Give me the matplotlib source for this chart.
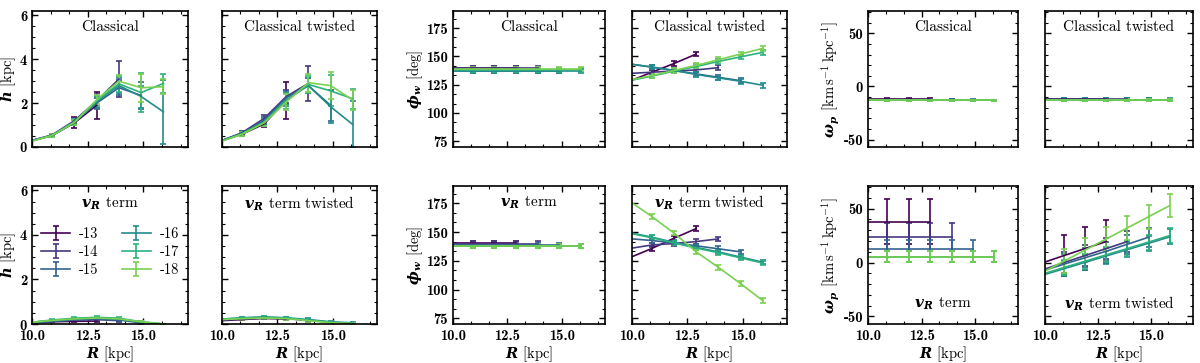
import numpy as np
import matplotlib
matplotlib.use('Agg')
import matplotlib.pyplot as plt
from matplotlib.ticker import MultipleLocator

plt.rcParams['font.family'] = 'cmr10'
plt.rcParams['axes.formatter.use_mathtext'] = False
plt.rcParams['axes.unicode_minus'] = False
plt.rcParams['mathtext.fontset'] = 'custom'
plt.rcParams['mathtext.rm'] = 'cmr10'
plt.rcParams['mathtext.it'] = 'cmmi10'
plt.rcParams['mathtext.bf'] = 'cmb10'
plt.rcParams['mathtext.bfit'] = 'DejaVu Serif:italic:bold'
plt.rcParams['axes.linewidth'] = 1.2
plt.rcParams['font.size'] = 10.5

# radial bins, first point (R=10) carries no error bar
R = [10.0, 10.9, 11.9, 12.9, 13.9, 14.9, 15.9]
labels = ['-13', '-14', '-15', '-16', '-17', '-18']
npts = [4, 5, 6, 7, 7, 7]
nan = np.nan

# h [kpc]
h_classical = [[0.30, 0.52, 1.10, 1.90],
               [0.30, 0.55, 1.20, 2.10, 3.10],
               [0.30, 0.52, 1.15, 2.00, 2.70, 2.35],
               [0.28, 0.52, 1.12, 2.05, 2.80, 2.30, 1.60],
               [0.28, 0.53, 1.15, 2.10, 2.88, 2.48, 2.90],
               [0.27, 0.52, 1.12, 2.15, 3.00, 2.70, 2.75]]
h_classical_err = [[nan, 0.06, 0.25, 0.62],
                   [nan, 0.06, 0.12, 0.30, 0.80],
                   [nan, 0.06, 0.12, 0.25, 0.35, 0.60],
                   [nan, 0.06, 0.12, 0.25, 0.35, 0.50, 1.45],
                   [nan, 0.06, 0.12, 0.25, 0.35, 0.90, 0.45],
                   [nan, 0.06, 0.12, 0.20, 0.30, 0.65, 0.35]]
h_twisted = [[0.30, 0.58, 1.05, 2.13],
             [0.30, 0.65, 1.30, 2.30, 2.90],
             [0.30, 0.62, 1.22, 2.25, 2.80, 1.90],
             [0.28, 0.60, 1.15, 2.15, 2.80, 1.84, 1.03],
             [0.28, 0.60, 1.12, 2.10, 2.85, 2.56, 2.20],
             [0.27, 0.58, 1.10, 2.05, 2.93, 2.80, 2.15]]
h_twisted_err = [[nan, 0.10, 0.15, 0.85],
                 [nan, 0.10, 0.15, 0.30, 0.80],
                 [nan, 0.10, 0.15, 0.30, 0.35, 0.70],
                 [nan, 0.10, 0.15, 0.30, 0.35, 0.75, 1.05],
                 [nan, 0.10, 0.15, 0.35, 0.40, 0.70, 0.45],
                 [nan, 0.10, 0.15, 0.35, 0.40, 0.60, 0.45]]
h_vr = [[0.05, 0.10, 0.12, 0.13],
        [0.05, 0.12, 0.18, 0.20, 0.15],
        [0.05, 0.12, 0.18, 0.22, 0.18, 0.05],
        [0.08, 0.15, 0.22, 0.27, 0.22, 0.08, 0.00],
        [0.08, 0.18, 0.26, 0.30, 0.26, 0.10, 0.00],
        [0.08, 0.16, 0.23, 0.27, 0.23, 0.10, 0.00]]
h_vr_err = [[nan, 0.03, 0.04, 0.04],
            [nan, 0.03, 0.04, 0.04, 0.04],
            [nan, 0.03, 0.04, 0.04, 0.04, 0.03],
            [nan, 0.04, 0.05, 0.05, 0.05, 0.03, 0.02],
            [nan, 0.04, 0.05, 0.05, 0.05, 0.03, 0.02],
            [nan, 0.04, 0.05, 0.05, 0.05, 0.03, 0.02]]
h_vr_twisted = [[0.15, 0.20, 0.25, 0.22],
                [0.18, 0.22, 0.27, 0.25, 0.15],
                [0.20, 0.25, 0.28, 0.26, 0.16, 0.08],
                [0.22, 0.28, 0.32, 0.28, 0.20, 0.10, 0.05],
                [0.22, 0.27, 0.30, 0.27, 0.18, 0.08, 0.03],
                [0.20, 0.24, 0.27, 0.24, 0.15, 0.06, 0.02]]
h_vr_twisted_err = [[nan, 0.03, 0.04, 0.04],
                    [nan, 0.03, 0.04, 0.04, 0.04],
                    [nan, 0.03, 0.04, 0.04, 0.04, 0.03],
                    [nan, 0.04, 0.05, 0.05, 0.05, 0.03, 0.02],
                    [nan, 0.04, 0.05, 0.05, 0.05, 0.03, 0.02],
                    [nan, 0.04, 0.05, 0.05, 0.05, 0.03, 0.02]]

# phi_w [deg]
phi_classical = [[139.5] * 4, [139.5] * 5, [137.0] * 6,
                 [137.0] * 7, [138.0] * 7, [138.5] * 7]
phi_classical_err = [[nan] + [1.8] * 3, [nan] + [1.8] * 4, [nan] + [1.8] * 5,
                     [nan] + [1.8] * 6, [nan] + [1.8] * 6, [nan] + [1.8] * 6]
phi_twisted = [[129.0, 136.0, 143.7, 152.0],
               [135.0, 136.0, 137.0, 138.0, 140.0],
               [143.0, 140.5, 137.5, 134.5, 131.5, 128.5],
               [143.0, 140.5, 137.5, 134.0, 131.0, 128.0, 124.5],
               [129.0, 132.5, 137.0, 141.0, 145.5, 149.5, 153.5],
               [129.5, 133.0, 137.5, 142.0, 147.0, 152.0, 157.0]]
phi_twisted_err = [[nan, 2.0, 2.0, 2.0],
                   [nan, 2.0, 2.0, 2.0, 2.0],
                   [nan, 2.0, 2.0, 2.0, 2.0, 2.0],
                   [nan, 2.0, 2.0, 2.0, 2.0, 2.0, 2.0],
                   [nan, 2.0, 2.0, 2.0, 2.0, 2.0, 2.0],
                   [nan, 2.0, 2.0, 2.0, 2.0, 2.0, 2.0]]
phi_vr = [[140.5] * 4, [140.0] * 5, [139.0] * 6,
          [138.0] * 7, [138.0] * 7, [138.0] * 7]
phi_vr_err = phi_classical_err
phi_vr_twisted = [[128.5, 135.7, 144.6, 153.0],
                  [136.0, 138.7, 140.0, 141.7, 144.0],
                  [144.0, 142.6, 140.5, 138.0, 135.4, 132.7],
                  [149.0, 145.5, 141.0, 136.6, 132.7, 128.2, 123.8],
                  [148.5, 145.0, 140.5, 136.0, 132.0, 127.5, 123.0],
                  [175.4, 163.4, 149.0, 132.7, 119.3, 105.2, 90.4]]
phi_vr_twisted_err = phi_twisted_err

# omega_p [km/s/kpc]
om_classical = [[-12.0] * 4, [-12.5] * 5, [-12.5] * 6,
                [-13.0] * 7, [-13.0] * 7, [-13.0] * 7]
om_classical_err = [[nan] + [1.5] * 3, [nan] + [0.5] * 4, [nan] + [0.5] * 5,
                    [nan] + [0.5] * 6, [nan] + [0.5] * 6, [nan] + [0.5] * 6]
om_twisted = [[-12.0] * 4, [-12.0] * 5, [-12.5] * 6,
              [-12.5] * 7, [-13.0] * 7, [-13.0] * 7]
om_twisted_err = [[nan] + [1.5] * 3, [nan] + [1.5] * 4, [nan] + [1.5] * 5,
                  [nan] + [1.5] * 6, [nan] + [1.0] * 6, [nan] + [1.0] * 6]
om_vr = [[38.0] * 4, [23.5] * 5, [13.0] * 6,
         [5.5] * 7, [5.5] * 7, [5.5] * 7]
om_vr_err = [[nan] + [21.0] * 3, [nan] + [13.0] * 4, [nan] + [7.5] * 5,
             [nan] + [4.8] * 6, [nan] + [4.8] * 6, [nan] + [4.8] * 6]
om_vr_twisted = [[0.5, 6.5, 13.0, 19.5],
                 [-6.0, 0.0, 6.5, 13.0, 19.5],
                 [-7.0, -1.5, 4.5, 10.5, 17.0, 23.5],
                 [-11.0, -5.7, 0.2, 6.1, 12.0, 17.9, 23.8],
                 [-10.0, -4.6, 1.3, 7.2, 13.0, 19.0, 25.0],
                 [-8.0, 1.3, 11.6, 21.9, 32.2, 42.5, 52.8]]
om_vr_twisted_err = [[nan, 19.0, 20.0, 20.0],
                     [nan, 10.0, 10.0, 10.0, 10.0],
                     [nan, 9.0, 9.0, 9.0, 9.0, 9.0],
                     [nan, 7.0, 7.0, 7.0, 7.0, 7.0, 7.0],
                     [nan, 7.0, 7.0, 7.0, 7.0, 7.0, 7.0],
                     [nan, 11.0, 11.0, 11.0, 11.0, 11.0, 11.0]]

colors = plt.cm.viridis(np.linspace(0, 0.8, 6))

vr_term = r'$\mathbfit{v}_{\mathbfit{R}}$ term'
panels = [
    # (column, row, values, errors, title, title y)
    (0, 0, h_classical, h_classical_err, 'Classical', 0.88),
    (1, 0, h_twisted, h_twisted_err, 'Classical twisted', 0.88),
    (0, 1, h_vr, h_vr_err, vr_term, 0.87),
    (1, 1, h_vr_twisted, h_vr_twisted_err, vr_term + ' twisted', 0.87),
    (2, 0, phi_classical, phi_classical_err, 'Classical', 0.88),
    (3, 0, phi_twisted, phi_twisted_err, 'Classical twisted', 0.88),
    (2, 1, phi_vr, phi_vr_err, vr_term, 0.88),
    (3, 1, phi_vr_twisted, phi_vr_twisted_err, vr_term + ' twisted', 0.88),
    (4, 0, om_classical, om_classical_err, 'Classical', 0.88),
    (5, 0, om_twisted, om_twisted_err, 'Classical twisted', 0.88),
    (4, 1, om_vr, om_vr_err, vr_term, 0.15),
    (5, 1, om_vr_twisted, om_vr_twisted_err, vr_term + ' twisted', 0.15),
]

W, H = 1200, 363
col_px = [(32, 188), (222, 377), (453, 605), (632, 787), (868, 1018), (1045, 1193)]
row_px = [(11, 147), (186, 324)]

ylims = [(0, 6.2), (70, 190), (-57, 71)]
yticks = [(2, 0.5), (25, 25 / 3), (50, 10)]
ylabels = [r'$\mathbfit{h}$ [kpc]',
           r'$\mathbfit{\phi}_{\mathbfit{w}}$ [deg]',
           r'$\mathbfit{\omega}_{\mathbfit{p}}$ [km$\,$s$^{-1}\,$kpc$^{-1}$]']

fig = plt.figure(figsize=(12, 3.63), dpi=100)

for col, row, vals, errs, title, ty in panels:
    x0, x1 = col_px[col]
    y0, y1 = row_px[row]
    ax = fig.add_axes([x0 / W, 1 - y1 / H, (x1 - x0) / W, (y1 - y0) / H])
    grp = col // 2
    for i in range(6):
        n = npts[i]
        ax.errorbar(R[:n], vals[i], yerr=errs[i], color=colors[i], lw=1.2,
                    elinewidth=1.2, capsize=2.5, capthick=1.2, label=labels[i])
    ax.set_xlim(10, 17)
    ax.set_ylim(*ylims[grp])
    ax.xaxis.set_major_locator(MultipleLocator(2.5))
    ax.xaxis.set_minor_locator(MultipleLocator(2.5 / 3))
    ax.yaxis.set_major_locator(MultipleLocator(yticks[grp][0]))
    ax.yaxis.set_minor_locator(MultipleLocator(yticks[grp][1]))
    ax.tick_params(which='both', direction='in', top=True, right=True,
                   labelfontfamily='cmb10', labelsize=10.5)
    ax.tick_params(which='major', length=4, width=1)
    ax.tick_params(which='minor', length=2, width=0.8)
    ax.text(0.5, ty, title, transform=ax.transAxes, ha='center', va='center',
            fontsize=11)
    if col % 2 == 0:
        ax.set_ylabel(ylabels[grp], labelpad=1)
    else:
        ax.set_yticklabels([])
    if row == 1:
        ax.set_xlabel(r'$\mathbfit{R}$ [kpc]', labelpad=1)
    else:
        ax.set_xticklabels([])
    if col == 0 and row == 1:
        ax.legend(loc='center', bbox_to_anchor=(0.5, 0.52), ncol=2, frameon=False,
                  handlelength=2.0, columnspacing=1.6, labelspacing=0.3,
                  handletextpad=0.6, fontsize=10.5)

fig.savefig('out.png', dpi=100)
